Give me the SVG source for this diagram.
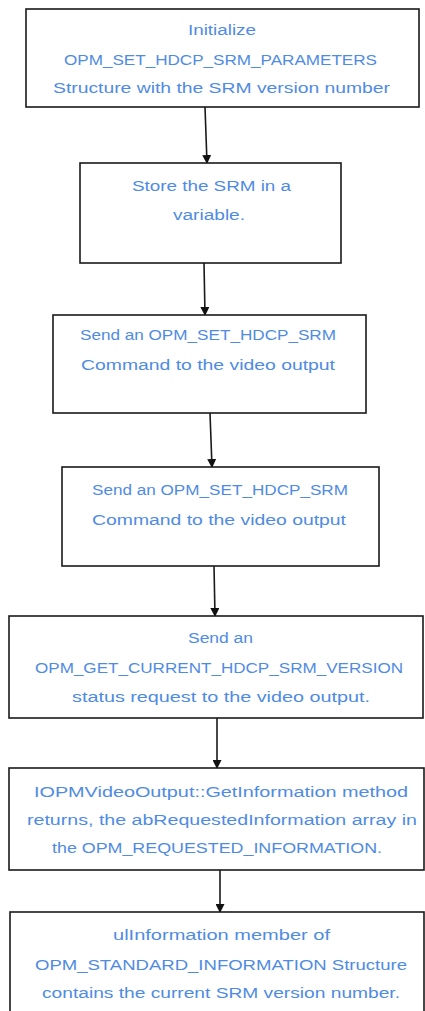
<svg xmlns="http://www.w3.org/2000/svg" width="425" height="1011" viewBox="0 0 425 1011">
<style>
.box{fill:#fff;stroke:#1a1a1a;stroke-width:1.6}
.t{font-family:"Liberation Sans",Arial,sans-serif;font-size:14px;fill:#4f8be3}
.c{fill:none;stroke:#1a1a1a;stroke-width:1.6}
</style>
<defs>
<marker id="ah" markerWidth="9" markerHeight="9" refX="8" refY="4.5" orient="auto" markerUnits="userSpaceOnUse">
<path d="M0,0 L9,4.5 L0,9 Z" fill="#111"/>
</marker>
</defs>
<rect width="425" height="1011" fill="#fff"/>
<g id="connectors">
<line class="c" x1="205" y1="107" x2="207" y2="163" marker-end="url(#ah)"/>
<line class="c" x1="204" y1="263" x2="205" y2="315" marker-end="url(#ah)"/>
<line class="c" x1="210" y1="413" x2="212" y2="467" marker-end="url(#ah)"/>
<line class="c" x1="214" y1="566" x2="215" y2="616" marker-end="url(#ah)"/>
<line class="c" x1="217" y1="718" x2="217" y2="768" marker-end="url(#ah)"/>
<line class="c" x1="220" y1="870" x2="220" y2="912" marker-end="url(#ah)"/>
</g>
<g id="n1">
<rect class="box" x="26" y="9" width="393" height="98"/>
<text class="t" x="188" y="35" textLength="68" lengthAdjust="spacingAndGlyphs">Initialize</text>
<text class="t" x="64" y="65" textLength="313" lengthAdjust="spacingAndGlyphs">OPM_SET_HDCP_SRM_PARAMETERS</text>
<text class="t" x="53" y="93" textLength="337" lengthAdjust="spacingAndGlyphs">Structure with the SRM version  number</text>
</g>
<g id="n2">
<rect class="box" x="80" y="163" width="261" height="100"/>
<text class="t" x="132" y="191" textLength="159" lengthAdjust="spacingAndGlyphs">Store the SRM in  a</text>
<text class="t" x="173" y="220" textLength="72" lengthAdjust="spacingAndGlyphs">variable.</text>
</g>
<g id="n3">
<rect class="box" x="53" y="315" width="313" height="98"/>
<text class="t" x="80" y="340" textLength="256" lengthAdjust="spacingAndGlyphs">Send an OPM_SET_HDCP_SRM</text>
<text class="t" x="81" y="370" textLength="254" lengthAdjust="spacingAndGlyphs">Command  to the video  output</text>
</g>
<g id="n4">
<rect class="box" x="62" y="467" width="317" height="99"/>
<text class="t" x="92" y="495" textLength="256" lengthAdjust="spacingAndGlyphs">Send an OPM_SET_HDCP_SRM</text>
<text class="t" x="92" y="525" textLength="254" lengthAdjust="spacingAndGlyphs">Command  to the video  output</text>
</g>
<g id="n5">
<rect class="box" x="9" y="616" width="414" height="102"/>
<text class="t" x="188" y="643" textLength="65" lengthAdjust="spacingAndGlyphs">Send an</text>
<text class="t" x="35" y="673" textLength="368" lengthAdjust="spacingAndGlyphs">OPM_GET_CURRENT_HDCP_SRM_VERSION</text>
<text class="t" x="72" y="702" textLength="298" lengthAdjust="spacingAndGlyphs">status request  to the video  output.</text>
</g>
<g id="n6">
<rect class="box" x="9" y="768" width="415" height="102"/>
<text class="t" x="34" y="797" textLength="374" lengthAdjust="spacingAndGlyphs">IOPMVideoOutput::GetInformation   method</text>
<text class="t" x="27" y="825" textLength="390" lengthAdjust="spacingAndGlyphs">returns, the abRequestedInformation   array in</text>
<text class="t" x="52" y="853" textLength="330" lengthAdjust="spacingAndGlyphs">the OPM_REQUESTED_INFORMATION.</text>
</g>
<g id="n7">
<rect class="box" x="10" y="912" width="414" height="110"/>
<text class="t" x="113" y="940" textLength="217" lengthAdjust="spacingAndGlyphs">ulInformation  member  of</text>
<text class="t" x="35" y="970" textLength="372" lengthAdjust="spacingAndGlyphs">OPM_STANDARD_INFORMATION Structure</text>
<text class="t" x="42" y="998" textLength="358" lengthAdjust="spacingAndGlyphs">contains the current SRM version number.</text>
</g>
</svg>
